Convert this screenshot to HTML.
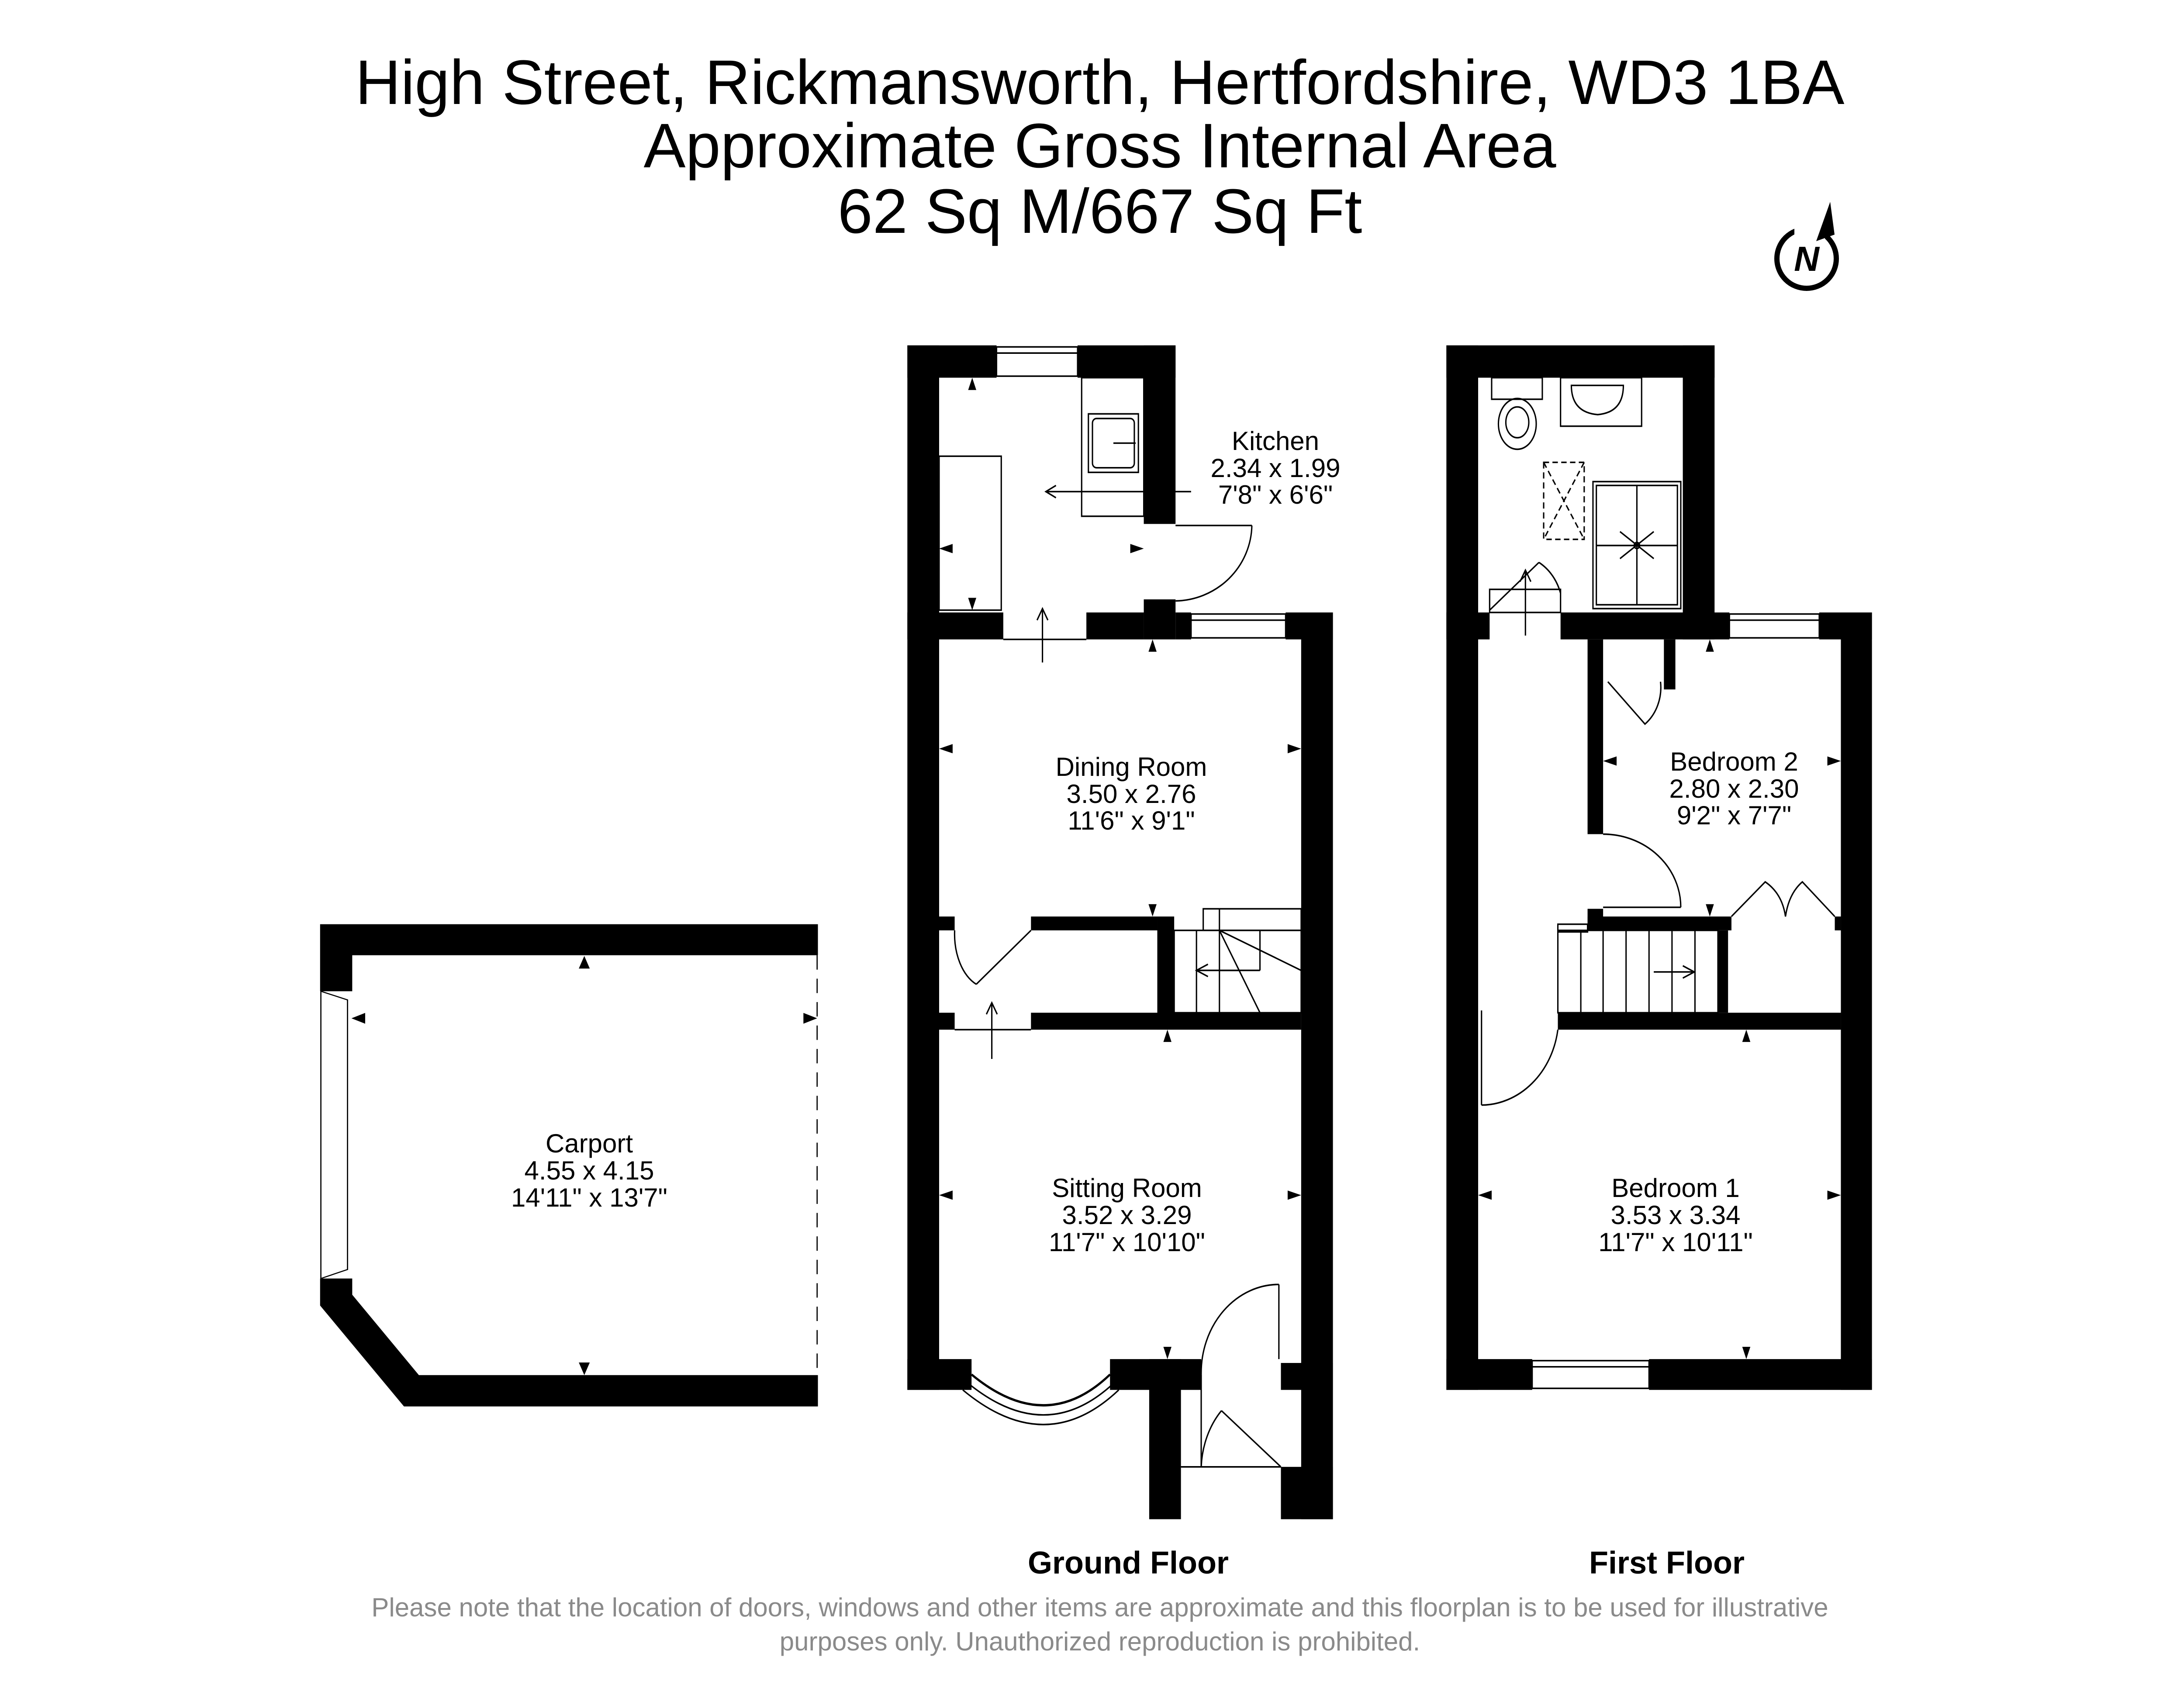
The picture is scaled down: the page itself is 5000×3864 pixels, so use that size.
<!DOCTYPE html>
<html><head><meta charset="utf-8"><style>
html,body{margin:0;padding:0;background:#fff}
svg{display:block}
text{font-family:"Liberation Sans",sans-serif}
</style></head><body>
<svg width="5000" height="3864" viewBox="0 0 5000 3864" xmlns="http://www.w3.org/2000/svg">
<rect width="5000" height="3864" fill="#fff"/>
<g font-size="144" text-anchor="middle" fill="#000">
<text x="2518" y="238">High Street, Rickmansworth, Hertfordshire, WD3 1BA</text>
<text x="2518" y="383">Approximate Gross Internal Area</text>
<text x="2518" y="533">62 Sq M/667 Sq Ft</text>
</g>
<g transform="translate(-32,-8)">
<circle cx="4168" cy="600" r="68" fill="none" stroke="#000" stroke-width="12"/>
<rect x="4140" y="500" width="70" height="60" fill="#fff"/>
<polygon points="4222,470 4190,560 4232,545" fill="#000"/>
<text x="4168" y="628" font-size="80" font-weight="bold" text-anchor="middle" font-style="italic">N</text>
</g>

<g transform="translate(600,2015) scale(0.8974,0.825)">
<path d="M148,122 H1418 V208 H230 V308 H148 Z" fill="#000"/>
<path d="M148,1105 H230 V1150 L400,1373 H1418 V1460 H362 L148,1180 Z" fill="#000"/>
<path d="M150,308 L218,332 V1080 L150,1105 Z" fill="none" stroke="#000" stroke-width="3"/>
<line x1="1416" y1="208" x2="1416" y2="1373" stroke="#000" stroke-width="3" stroke-dasharray="40,25"/>
<polygon points="822,210 808,245 836,245" fill="#000"/>
<polygon points="822,1373 808,1338 836,1338" fill="#000"/>
<polygon points="228,383 263,368 263,398" fill="#000"/>
<polygon points="1416,383 1381,368 1381,398" fill="#000"/>
</g>
<g font-size="60" text-anchor="middle">
<text x="1349" y="2638">Carport</text>
<text x="1349" y="2700">4.55 x 4.15</text>
<text x="1349" y="2762">14'11" x 13'7"</text>
</g>

<g transform="translate(2000,706) scale(1.5464,1.762)">
<g fill="#000">
<rect x="50" y="48" width="47" height="1357"/>
<rect x="50" y="48" width="132" height="42"/>
<rect x="302" y="48" width="145" height="42"/>
<rect x="400" y="48" width="47" height="232"/>
<rect x="50" y="395" width="142" height="35"/>
<rect x="315" y="395" width="85" height="35"/>
<rect x="400" y="378" width="47" height="52"/>
<rect x="447" y="395" width="23" height="35"/>
<rect x="610" y="395" width="70" height="35"/>
<rect x="633" y="395" width="47" height="1178"/>
<rect x="97" y="790" width="23" height="18"/>
<rect x="233" y="790" width="187" height="18"/>
<rect x="420" y="790" width="25" height="147"/>
<rect x="97" y="915" width="23" height="22"/>
<rect x="233" y="915" width="400" height="22"/>
<rect x="50" y="1365" width="95" height="40"/>
<rect x="350" y="1365" width="135" height="40"/>
<rect x="408" y="1365" width="47" height="208"/>
<rect x="603" y="1370" width="77" height="35"/>
<rect x="603" y="1505" width="77" height="68"/>
</g>
<g fill="none" stroke="#000" stroke-width="2">
<rect x="182" y="50" width="120" height="38"/><line x1="182" y1="58" x2="302" y2="58"/>
<rect x="470" y="397" width="140" height="31"/><line x1="470" y1="405" x2="610" y2="405"/>
<rect x="308" y="90" width="92" height="180"/>
<rect x="318" y="137" width="74" height="76"/><rect x="324" y="143" width="62" height="64" rx="6"/>
<line x1="355" y1="175" x2="388" y2="175"/>
<rect x="97" y="192" width="92" height="200"/>
<line x1="255" y1="238" x2="470" y2="238"/><polyline points="270,230 255,238 270,246"/>
<line x1="447" y1="282" x2="560" y2="282"/><path d="M560,282 A115,100 0 0 1 447,380"/>
<line x1="192" y1="430" x2="315" y2="430"/>
<line x1="250" y1="390" x2="250" y2="460"/><polyline points="242,405 250,390 258,405"/>
<path d="M120,808 A50,70 0 0 0 152,878"/><line x1="152" y1="878" x2="233" y2="808"/>
<line x1="120" y1="937" x2="233" y2="937"/>
<line x1="175" y1="902" x2="175" y2="975"/><polyline points="167,917 175,902 183,917"/>
<rect x="445" y="808" width="188" height="107"/>
<rect x="488" y="780" width="145" height="28"/>
<line x1="512" y1="780" x2="512" y2="915"/><line x1="478" y1="808" x2="478" y2="915"/>
<line x1="512" y1="808" x2="572" y2="915"/><line x1="512" y1="808" x2="633" y2="860"/>
<line x1="572" y1="808" x2="572" y2="860"/><line x1="512" y1="860" x2="572" y2="860"/>
<line x1="478" y1="860" x2="540" y2="860"/><polyline points="495,852 478,860 495,868"/>
<path d="M145,1385 Q255,1465 350,1385" stroke-width="3"/>
<path d="M138,1395 Q255,1480 357,1395"/>
<path d="M132,1405 Q255,1495 363,1405"/>
<line x1="600" y1="1268" x2="600" y2="1365"/><path d="M600,1268 A115,115 0 0 0 485,1385"/>
<line x1="485" y1="1385" x2="485" y2="1505"/>
<line x1="515" y1="1432" x2="603" y2="1505"/><path d="M515,1432 A100,110 0 0 0 485,1505"/>
<line x1="455" y1="1505" x2="603" y2="1505"/>
</g>
<g fill="#000">
<rect x="848" y="48" width="47" height="1357"/>
<rect x="848" y="48" width="397" height="42"/>
<rect x="1198" y="48" width="47" height="382"/>
<rect x="848" y="395" width="64" height="35"/>
<rect x="1017" y="395" width="250" height="35"/>
<rect x="1400" y="395" width="78" height="35"/>
<rect x="1432" y="395" width="46" height="1010"/>
<rect x="848" y="1365" width="127" height="40"/>
<rect x="1148" y="1365" width="330" height="40"/>
<rect x="1057" y="430" width="23" height="253"/>
<rect x="1057" y="780" width="23" height="28"/>
<rect x="1057" y="790" width="213" height="18"/>
<rect x="1423" y="790" width="9" height="18"/>
<rect x="1170" y="430" width="17" height="65"/>
<rect x="1250" y="808" width="15" height="107"/>
<rect x="1013" y="915" width="419" height="22"/>
</g>
<g fill="none" stroke="#000" stroke-width="2">
<rect x="1267" y="397" width="133" height="31"/><line x1="1267" y1="405" x2="1400" y2="405"/>
<rect x="975" y="1367" width="173" height="36"/><line x1="975" y1="1375" x2="1148" y2="1375"/>
<rect x="915" y="90" width="75" height="28"/>
<ellipse cx="953" cy="150" rx="28" ry="33"/><ellipse cx="953" cy="148" rx="17" ry="20"/>
<rect x="1017" y="90" width="120" height="63"/>
<path d="M1033,100 H1110 Q1110,135 1072,138 Q1033,135 1033,100 Z"/>
<rect x="992" y="200" width="60" height="100" stroke-dasharray="8,5"/>
<line x1="992" y1="200" x2="1052" y2="300" stroke-dasharray="8,5"/><line x1="1052" y1="200" x2="992" y2="300" stroke-dasharray="8,5"/>
<rect x="1065" y="225" width="130" height="165"/><rect x="1070" y="230" width="120" height="155"/>
<line x1="1130" y1="230" x2="1130" y2="385"/><line x1="1070" y1="308" x2="1190" y2="308"/>
<line x1="1105" y1="290" x2="1155" y2="325"/><line x1="1105" y1="325" x2="1155" y2="290"/>
<circle cx="1130" cy="308" r="4"/>
<rect x="912" y="365" width="105" height="30"/>
<line x1="912" y1="392" x2="985" y2="330"/><path d="M985,330 A70,70 0 0 1 1017,370"/>
<line x1="965" y1="340" x2="965" y2="425"/><polyline points="957,355 965,340 973,355"/>
<path d="M1087,485 L1142,540 A60,60 0 0 0 1165,485"/>
<path d="M1080,683 A115,95 0 0 1 1195,778"/><line x1="1080" y1="778" x2="1195" y2="778"/>
<path d="M1270,790 L1320,745 Q1345,760 1350,790 Q1355,760 1375,745 L1423,790"/>
<rect x="1013" y="808" width="237" height="107"/>
<rect x="1013" y="800" width="44" height="10"/>
<line x1="1047" y1="808" x2="1047" y2="915"/><line x1="1080" y1="808" x2="1080" y2="915"/>
<line x1="1114" y1="808" x2="1114" y2="915"/><line x1="1148" y1="808" x2="1148" y2="915"/>
<line x1="1182" y1="808" x2="1182" y2="915"/><line x1="1216" y1="808" x2="1216" y2="915"/>
<line x1="1155" y1="862" x2="1215" y2="862"/><polyline points="1198,854 1215,862 1198,870"/>
<line x1="900" y1="912" x2="900" y2="1035"/><path d="M900,1035 A115,115 0 0 0 1013,937"/>
</g>
<g fill="#000">
<polygon points="146,90 140,106 152,106"/><polygon points="146,392 140,376 152,376"/>
<polygon points="97,312 117,306 117,318"/><polygon points="400,312 380,306 380,318"/>
<polygon points="413,430 407,446 419,446"/><polygon points="413,790 407,774 419,774"/>
<polygon points="97,572 117,566 117,578"/><polygon points="633,572 613,566 613,578"/>
<polygon points="435,937 429,953 441,953"/><polygon points="435,1365 429,1349 441,1349"/>
<polygon points="97,1152 117,1146 117,1158"/><polygon points="633,1152 613,1146 613,1158"/>
<polygon points="1238,430 1232,446 1244,446"/><polygon points="1238,790 1232,774 1244,774"/>
<polygon points="1080,588 1100,582 1100,594"/><polygon points="1432,588 1412,582 1412,594"/>
<polygon points="1292,937 1286,953 1298,953"/><polygon points="1292,1365 1286,1349 1298,1349"/>
<polygon points="895,1152 915,1146 915,1158"/><polygon points="1432,1152 1412,1146 1412,1158"/>
</g>
</g>

<g font-size="60" text-anchor="middle">
<text x="2920" y="1030">Kitchen</text><text x="2920" y="1092">2.34 x 1.99</text><text x="2920" y="1153">7'8" x 6'6"</text>
<text x="2590" y="1776">Dining Room</text><text x="2590" y="1838">3.50 x 2.76</text><text x="2590" y="1899">11'6" x 9'1"</text>
<text x="2580" y="2740">Sitting Room</text><text x="2580" y="2802">3.52 x 3.29</text><text x="2580" y="2864">11'7" x 10'10"</text>
<text x="3970" y="1764">Bedroom 2</text><text x="3970" y="1826">2.80 x 2.30</text><text x="3970" y="1887">9'2" x 7'7"</text>
<text x="3836" y="2740">Bedroom 1</text><text x="3836" y="2802">3.53 x 3.34</text><text x="3836" y="2864">11'7" x 10'11"</text>
</g>

<g font-size="72" font-weight="bold" text-anchor="middle">
<text x="2583" y="3602">Ground Floor</text>
<text x="3816" y="3602">First Floor</text>
</g>
<g font-size="60" fill="#8a8a8a" text-anchor="middle">
<text x="2518" y="3700">Please note that the location of doors, windows and other items are approximate and this floorplan is to be used for illustrative</text>
<text x="2518" y="3778">purposes only. Unauthorized reproduction is prohibited.</text>
</g>
</svg>
</body></html>
